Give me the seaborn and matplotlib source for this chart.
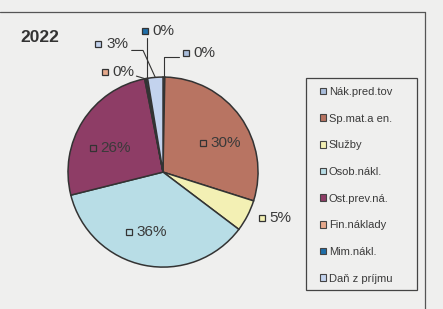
import matplotlib
matplotlib.use("Agg")
import matplotlib.pyplot as plt
import seaborn as sns
from matplotlib.patches import Patch, Rectangle
import numpy as np

# Data (cost structure, year 2022) - clockwise from 12 o'clock
year = "2022"
categories = ["Nák.pred.tov", "Sp.mat.a en.", "Služby", "Osob.nákl.",
              "Ost.prev.ná.", "Fin.náklady", "Mim.nákl.", "Daň z príjmu"]
values = [0.3, 29.6, 5.4, 35.8, 25.8, 0.2, 0.3, 2.6]
colors = ["#a9bddb", "#b87462", "#f3f0b4", "#b8dde6",
          "#8e3d66", "#e6a98c", "#1f6ea8", "#c3d3ee"]

# Label layout (pie data units, radius = 1): swatch position of each data label
label_pos = [(0.24, 1.25), (0.42, 0.31), (1.04, -0.48), (-0.36, -0.63),
             (-0.74, 0.25), (-0.61, 1.05), (-0.19, 1.48), (-0.68, 1.35)]
# leader lines for the tiny slices (None in x -> same x as rim point)
leaders = {0: [(None, 1.21), (0.17, 1.21)],
           5: [(-0.28, 1.01)],
           6: [(None, 1.41)],
           7: [(-0.21, 1.28), (-0.33, 1.28)]}

sns.set_theme(style="white")
plt.rcParams["font.family"] = ["Liberation Sans", "DejaVu Sans"]
txt_col = "#3a3a3a"
bg = "#efefee"

fig = plt.figure(figsize=(4.43, 3.09), dpi=100)
fig.patch.set_facecolor(bg)

ax = fig.add_axes([0.1535, 0.1356, 0.429, 0.615])
ax.set_facecolor(bg)
wedges, _ = ax.pie(values, colors=colors, startangle=90, counterclock=False,
                   radius=1, wedgeprops=dict(edgecolor="#333333", linewidth=1.1))
ax.set_xlim(-1, 1)
ax.set_ylim(-1, 1)
ax.axis("off")

for i, (w, v) in enumerate(zip(wedges, values)):
    sx, sy = label_pos[i]
    if i in leaders:
        th = np.deg2rad((w.theta1 + w.theta2) / 2)
        rx, ry = np.cos(th), np.sin(th)
        xs, ys = [rx], [ry]
        for px, py in leaders[i]:
            xs.append(rx if px is None else px)
            ys.append(py)
        ax.plot(xs, ys, color="#333333", lw=0.8, clip_on=False)
    ax.plot(sx, sy, marker="s", ms=5, mfc=colors[i], mec="#333333",
            mew=0.9, clip_on=False)
    ax.text(sx + 0.08, sy, f"{round(v)}%", fontsize=11, color=txt_col,
            ha="left", va="center")

fig.text(20 / 443, 1 - 38 / 309, year, fontsize=12.5, fontweight="bold",
         color="#333333", ha="left", va="center")

# legend box
fig.add_artist(Rectangle((306 / 443, 1 - 290 / 309), 111 / 443, 212 / 309,
                         transform=fig.transFigure, fill=False,
                         edgecolor="#444444", lw=0.9))
handles = [Patch(facecolor=c, edgecolor="#444444", lw=0.8) for c in colors]
fig.legend(handles, categories, loc="upper left",
           bbox_to_anchor=(320 / 443, 1 - 87 / 309), frameon=False,
           fontsize=8, labelcolor=txt_col, handlelength=0.55,
           handleheight=0.55, handletextpad=0.25, labelspacing=1.5,
           borderpad=0, borderaxespad=0)

# outer chart frame
fig.add_artist(plt.Line2D([0, 425 / 443], [1 - 12 / 309] * 2,
                          transform=fig.transFigure, color="#555555", lw=0.9))
fig.add_artist(plt.Line2D([425 / 443] * 2, [0, 1 - 12 / 309],
                          transform=fig.transFigure, color="#555555", lw=0.9))

fig.savefig("out.png", dpi=100, facecolor=bg)
